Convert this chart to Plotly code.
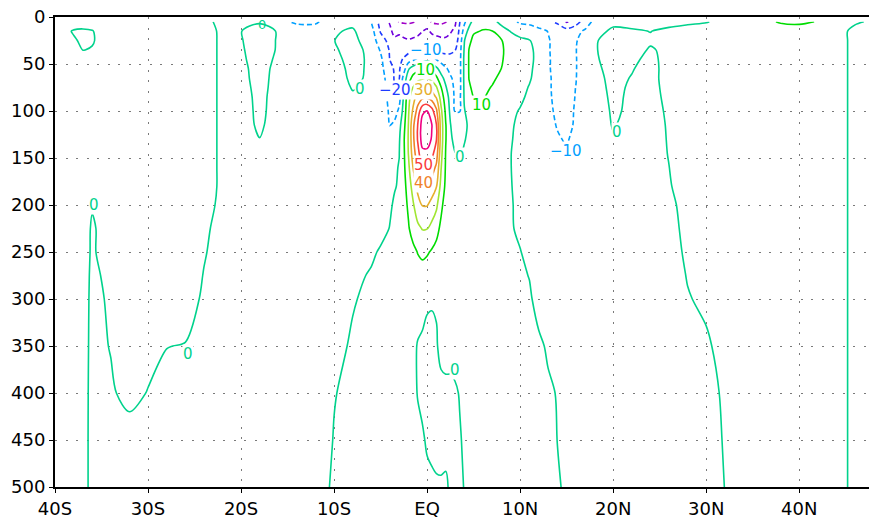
import numpy as np
import plotly.graph_objects as go

# Grid: latitude (deg, negative = south) and depth (m)
lat_deg = [-40, -38, -37, -36, -34, -32, -30, -28, -26, -24, -22, -20, -18, -16, -14, -12, -10,
           -8, -6, -5, -4, -3.5, -3, -2.5, -2, -1.5, -1, -0.5, 0, 0.5, 1, 1.5, 2, 2.5, 3,
           3.5, 4, 4.5, 5, 6, 7, 8, 9, 10, 11, 12, 13, 14, 15, 16, 17, 18, 20, 22, 24,
           26, 28, 30, 32, 34, 36, 38, 40, 42, 44, 46, 47.5]
depth_m = [5, 15, 25, 35, 45, 55, 65, 75, 85, 100, 115, 130, 145, 160, 180, 200,
           225, 250, 275, 300, 350, 400, 450, 500]

# Zonal velocity (cm/s), one depth profile per latitude in lat_deg order
u_cm_s = [
    [2, 2, 2, 2, 2, 2, 2, 2, 2, 2, 2, 2, 2, 2, 2, 2, 2, 2, 2, 2, 2, 2, 2, 2],                       # -40
    [2, -0.3, 0.4, 2, 2, 2, 2, 2, 2, 2, 2, 2, 2, 2, 2, 2, 2, 2, 2, 2, 2, 2, 2, 2],                  # -38
    [2, -0.6, -0.6, -0.1, 2, 2, 2, 2, 2, 2, 2, 2, 2, 2, 2, 2, 2, 2, 2, 2, 2, 2, 2, 2],              # -37
    [2, -0.2, -0.4, 0.3, 2, 2, 2, 2, 2, 2, 2, 2, 2, 1.5, 1, 0.3, -0.5, -0.6, -0.9, -1.1, -1.3, -1.5, -1.6, -1.6],  # -36
    [3, 2.7, 2.7, 3, 3, 3, 3, 3, 3, 3, 3, 3, 3, 3, 3, 3, 2, 2.4, 1.1, 0.6, 0.2, -0.6, -1.5, -2],    # -34
    [3, 3, 3, 3, 3, 3, 3, 3, 3, 3, 3, 3, 3, 3, 3, 3, 3, 3, 3, 3, 2.5, 1.4, -2.1, -2.5],              # -32
    [3, 3, 3, 3, 3, 3, 3, 3, 3, 3, 3, 3, 3, 3, 3, 3, 3, 3, 3, 3, 1.5, -0.2, -2, -2.5],               # -30
    [3, 3, 3, 3, 3, 3, 3, 3, 3, 3, 3, 3, 3, 3, 3, 3, 3, 3, 3, 1.5, 0.1, -1.5, -2, -2.5],             # -28
    [3, 3, 3, 3, 3, 3, 3, 3, 3, 3, 3, 3, 3, 3, 3, 3, 3, 3, 3, 2.4, -0.2, -1.8, -2.2, -2.5],          # -26
    [1, 1.3, 1.4, 1.4, 1.4, 1.4, 1.4, 1.4, 1.4, 1.4, 1.4, 1.4, 1.4, 1.4, 1.4, 1.2, 0.8, 0.4, -0.2, -0.8, -1.5, -2, -2.5, -2.5],  # -24
    [-1, -0.6, -0.6, -0.6, -0.6, -0.6, -0.6, -0.6, -0.6, -0.6, -0.6, -0.6, -0.6, -0.6, -0.6, -0.8, -1.5, -2, -2.5, -2.5, -2.5, -2.5, -2.5, -2.5],  # -22
    [-0.5, -0.1, -0.3, -0.6, -1, -1.3, -1.6, -2.2, -2.2, -2.2, -2, -2.2, -2.5, -2.5, -2.5, -2.5, -2.5, -2.5, -2.5, -2.5, -2.5, -2.5, -2.5, -2.5],  # -20
    [-0.5, 2, 2.5, 2.5, 2.5, 2, 2, 2, 1.5, 1.2, 0.8, -0.1, -1, -2, -2.5, -2.5, -2.5, -2.5, -2.5, -2.5, -2.5, -2.5, -2.5, -2.5],  # -18
    [-8.5, -0.35, -0.44, -0.5, -1.1, -1.6, -2, -2.4, -2.3, -2.2, -2.4, -2.5, -3, -3, -3, -3, -3, -3, -3, -3, -3, -3, -3, -3],  # -16
    [-11, -7, -5, -4, -4, -4, -4, -4, -4, -4, -4, -4, -4, -4, -4, -4, -4, -4, -4, -4, -4, -4, -4, -4],  # -14
    [-11, -7, -5, -4, -4, -4, -4, -4, -4, -4, -4, -4, -4, -4, -4, -4, -4, -4, -4, -4, -4, -4, -4, -4],  # -12
    [-6, -0.8, -0.1, -0.8, -2, -3, -3.5, -4, -4, -4, -4, -4, -4, -4, -4, -4, -4, -4, -4, -4, -4, -0.3, 0.32, 1.33],  # -10
    [-2, 1, 2, 2.5, 2.5, 2, 1.5, 0.5, -1, -2, -3, -3, -3, -3, -3, -3, -3, -3, -2.1, -1, 1.7, 1.7, 1.7, 1.7],  # -8
    [-10.1, -6, -4, -2, -1.5, -1.3, -1.2, -1.5, -2, -2.5, -3, -3, -3, -3, -3, -3, -3, -1.5, 0.9, 3, 3, 3, 3, 3],  # -6
    [-24, -21, -16, -11, -8, -7, -6.5, -6, -6, -5.5, -5, -4.5, -4, -3.5, -3, -2.8, -2.7, 1, 2, 3, 3, 3, 3, 3],  # -5
    [-31, -28, -23, -21, -20.2, -17, -14, -13, -12, -11, -10.3, -6, -4, -3, -2, -1, 0.3, 2, 3, 3, 3, 3, 3, 3],  # -4
    [-38, -33, -28, -24, -22, -21, -21, -20.5, -18, -14, -8, -3, -1.5, -1, -0.5, 1, 2, 3, 3, 3, 3, 3, 3, 3],  # -3.5
    [-40.5, -32, -27, -24, -22, -21, -20.3, -18, -14, -8, -3, -1, -0.2, 0.4, 0.8, 2, 3, 3, 3, 3, 3, 3, 3, 3],  # -3
    [-41, -35, -28, -24, -19, -14, -6, -3, 1.5, 4, 7, 9, 8.5, 8, 6.5, 5.5, 4, 3, 3, 3, 2.5, 2, 2, 2],  # -2.5
    [-41, -36, -29, -23, -15, -1, 6, 12, 17, 19, 20.5, 21, 20.5, 18, 15, 12, 9, 6, 4, 3, 2.5, 2, 2, 2],  # -2
    [-40.5, -35, -28, -21, -12, 5, 13, 20.5, 26, 32, 38, 38, 35, 30.5, 24, 19, 15, 7, 4, 3, 1, 1, 1.5, 2],  # -1.5
    [-38, -33, -27, -20.5, -8, 7, 17, 26, 34, 44, 50.5, 51, 47, 41, 33, 26, 18, 10.5, 5, 2, -0.3, -0.2, 1, 2],  # -1
    [-36, -30.3, -25, -19, -4, 9, 19, 28, 37, 58, 65, 65, 57, 50.5, 40.5, 30.5, 20.5, 12, 6, 1, -0.5, -1, 0.5, 1.5],  # -0.5
    [-36, -28, -24, -18, -2, 10.1, 20.1, 29, 38, 60.5, 66, 66, 57, 48, 39, 30.5, 20.3, 11, 5, 0.5, -1, -1.5, -0.5, 1],  # 0
    [-41, -32, -25, -19, -5, 8, 17, 26, 35, 54, 60.5, 59, 53, 45, 35, 27, 17, 9, 4, 0.5, -1.5, -2, -1, 0.8],  # 0.5
    [-42, -33, -27, -21, -10.5, 2, 12, 21, 29, 42, 50.5, 50.5, 45, 38, 30.5, 22, 13, 7, 3, 0.5, -0.5, -2, -1.5, 0.6],  # 1
    [-42, -34, -28, -23, -14, -4, 3, 10.5, 16, 22, 25, 25, 23, 20.5, 17, 12, 8, 5, 3, 1.5, 1.5, -1.5, -1.5, 0.5],  # 1.5
    [-40.5, -34, -28, -23, -16, -9, -3, 1, 4, 8, 10.5, 10.5, 9.5, 9, 8, 6, 4, 3, 2, 2, 1.5, -1, -1, 0.5],  # 2
    [-36, -31, -27, -22, -17, -12, -9, -6, -3, -2, 0.5, 2, 3, 4, 4, 3, 3, 3, 2, 2, 1.5, -1, -1, -0.5],  # 2.5
    [-32, -28, -25, -20.5, -16, -13, -12, -12, -12, -10.5, -6, -3, 0.3, 1, 3, 3, 3, 3, 2, 2, 1.5, -0.5, -1, -0.8],  # 3
    [-20.5, -18, -16, -14, -13, -13, -13, -13, -12, -10.5, -6, -3, -1, 1, 3, 3, 3, 3, 2, 2, 1.5, 0.2, -0.3, -0.5],  # 3.5
    [-12, -6, -0.5, 1, 2, 2, 2, 1.5, 1, -0.5, -1.5, -0.5, 1, 2, 3, 3, 3, 3, 2, 2, 1.5, 1, 0.5, 0.1],  # 4
    [-4, 3, 8, 10.2, 10.5, 10.5, 10.2, 9, 6, 3, 1, 1.5, 2, 2.5, 3, 3, 3, 3, 2, 2, 1.5, 1.5, 1, 0.8],  # 4.5
    [3, 9, 12, 13, 13, 12.5, 12, 11.5, 10.5, 7, 4, 3, 3, 3, 3, 3, 3, 3, 2, 2, 2, 1.5, 1.5, 1.5],  # 5
    [7, 10.5, 13, 14, 14, 13.5, 13, 12, 11, 8, 5, 4, 3.5, 3, 3, 3, 3, 3, 2, 2, 2, 2, 2, 2],  # 6
    [3, 10.2, 13, 13.5, 13.5, 13, 11.5, 9.5, 7, 5, 4, 3.5, 3, 3, 3, 3, 3, 3, 2, 2, 2, 2, 2, 2],  # 7
    [-3, 4, 10.5, 11.5, 11, 9.9, 8, 6, 4, 3, 2, 2, 2, 2, 2, 2, 2, 2, 2, 2, 2, 2, 2, 2],  # 8
    [-7, -0.5, 4, 5, 5, 5, 4.5, 4, 3, 1.5, 0.8, 0.5, 0.1, 0.1, 0.3, 0.5, 0.5, 1, 1.5, 2, 2, 2, 2, 2],  # 9
    [-11.5, -4, 2, 3, 3, 2.5, 2, 1.5, 1.5, -0.5, -1.5, -2, -2, -2, -2, -1.5, -1, 0.2, 1, 1.5, 2, 2, 2, 2],  # 10
    [-12, -6, 0.3, 1, 1.2, 1, 0.5, -0.3, -1.5, -3, -3.5, -4, -4, -4, -4, -4, -3, -1.5, -0.2, 0.8, 1.5, 2, 2, 2],  # 11
    [-14, -8, -2, -1.5, -1.5, -2, -2, -3, -4, -5, -6, -6, -6, -5.5, -5, -5, -4, -3.5, -3, -2, 1, 1.5, 2, 2],  # 12
    [-18, -10.2, -9.5, -9.5, -9.5, -9.5, -9.5, -9.5, -9.5, -9, -8.5, -8, -7, -6.5, -6, -5.5, -5, -4.5, -4, -3, -0.7, 0.8, 1.5, 2],  # 13
    [-22, -13, -12, -12, -11.5, -11.5, -11, -11, -10.8, -10.8, -10.3, -9.5, -9, -8, -7, -6, -5, -4.5, -4, -3.5, -3, -0.26, -0.05, 0.5],  # 14
    [-31, -16, -14, -13, -12.5, -12.5, -12, -12, -11.5, -11.5, -11, -10.5, -9.5, -8.5, -7.5, -6.5, -5.5, -5, -4.5, -4, -3.5, -2.5, -1.5, -0.75],  # 15
    [-25, -12, -10.5, -10.2, -10.3, -10.3, -10.2, -9.9, -9.8, -9.5, -9.5, -8.5, -8, -7.5, -7, -6.5, -6, -5.5, -5, -4.5, -4, -3, -2, -1.5],  # 16
    [-14, -9, -7, -6, -6, -6, -6, -6, -6, -6, -6, -6, -6, -6, -6, -6, -5.5, -5, -5, -4.5, -4, -3, -2.5, -2],  # 17
    [-8, -3, -0.5, -0.4, -0.6, -1, -1.5, -1.8, -2, -2.5, -3, -3.5, -4, -4, -4, -4, -4, -4, -4, -4, -3.5, -3, -2.5, -2],  # 18
    [-2, 1.5, 2, 2, 1.8, 1.5, 1.3, 1.1, 0.86, 0.6, 0.33, -0.5, -1.5, -2, -2, -2, -2, -2, -2, -2, -2, -2, -2, -2],  # 20
    [-1.5, 0.5, 1.5, 1.6, 0.9, 0.3, -0.23, -0.6, -0.7, -0.73, -1.5, -2, -2, -2, -2, -2, -2, -2, -2, -2, -2, -2, -2, -2],  # 22
    [-1.5, -0.1, 0.6, -0.4, -1.1, -1.7, -2, -2, -2, -2, -2, -2, -2, -2, -2, -2, -2, -2, -2, -2, -2, -2, -2, -2],  # 24
    [-1.5, 1, 1.5, 0.93, 1.5, 2, 2.44, 2, 1.5, 0.86, 0.5, 0.35, 0.2, -0.05, -0.5, -1, -1.5, -2, -2, -2, -2.5, -2.5, -2.5, -2.5],  # 26
    [-1, 2, 2.5, 2.5, 2.5, 2.5, 2.5, 2.5, 2.5, 2.5, 2.5, 2.5, 2.5, 2.5, 2.8, 1.5, 1.23, 0.86, 0.22, -0.27, -1.5, -2, -2.2, -2.5],  # 28
    [-0.3, 2.5, 3, 3, 3, 3, 3, 3, 3, 3, 3, 3, 3, 3, 3, 2.5, 2, 1.5, 1.2, 0.8, -0.6, -1.4, -1.7, -2],  # 30
    [1.5, 3, 3, 3, 3, 3, 3, 3, 3, 3, 3, 3, 3, 3, 3, 3, 3, 3, 3, 2.5, 1.4, 0.6, 0.3, 0.05],  # 32
    [3, 3, 3, 3, 3, 3, 3, 3, 3, 3, 3, 3, 3, 3, 3, 3, 3, 3, 3, 3, 3, 3, 3, 3],  # 34
    [7, 4, 3, 3, 3, 3, 3, 3, 3, 3, 3, 3, 3, 3, 3, 3, 3, 3, 3, 3, 3, 3, 3, 3],  # 36
    [11, 5, 3, 3, 3, 3, 3, 3, 3, 3, 3, 3, 3, 3, 3, 3, 3, 3, 3, 3, 3, 3, 3, 3],  # 38
    [12, 5, 3, 3, 3, 3, 3, 3, 3, 3, 3, 3, 3, 3, 3, 3, 3, 3, 3, 3, 3, 3, 3, 3],  # 40
    [9.5, 4, 3, 3, 3, 3, 3, 3, 3, 3, 3, 3, 3, 3, 3, 3, 3, 3, 3, 3, 3, 3, 3, 3],  # 42
    [3, 1.5, 1.5, 1.5, 1.5, 1.5, 1.5, 1.5, 1.5, 1.5, 1.5, 1.5, 1.5, 1.5, 1.5, 1.5, 1.5, 1.5, 1.5, 1.5, 1.5, 1.5, 1.5, 1.5],  # 44
    [0.5, -1, -1, -1, -1, -1, -1, -1, -1, -1, -1, -1, -1, -1, -1, -1, -1, -1, -1, -1, -1, -1, -1, -1],  # 46
    [-0.3, -1.5, -1.5, -1.5, -1.5, -1.5, -1.5, -1.5, -1.5, -1.5, -1.5, -1.5, -1.5, -1.5, -1.5, -1.5, -1.5, -1.5, -1.5, -1.5, -1.5, -1.5, -1.5, -1.5],  # 47.5
]

# Contour levels and their line colours (rainbow sequence)
neg_levels = [-40, -30, -20, -10]
pos_levels = [0, 10, 20, 30, 40, 50, 60]
level_colors = {
    -40: "rgb(160,0,200)", -30: "rgb(110,0,220)", -20: "rgb(30,60,255)",
    -10: "rgb(0,160,255)", 0: "rgb(0,210,140)", 10: "rgb(0,220,0)",
    20: "rgb(160,230,50)", 30: "rgb(230,175,45)", 40: "rgb(240,130,40)",
    50: "rgb(250,60,60)", 60: "rgb(240,0,130)",
}

# In-line contour labels: text, latitude, depth, level
label_text = ["0", "0", "0", "\u221210", "10", "\u221220", "30", "50", "40", "0", "10", "\u221210", "0", "0"]
label_lat = [-35.8, -25.7, -7.2, -0.1, -0.2, -3.5, -0.4, -0.4, -0.4, 3.5, 5.8, 14.9, 20.4, 3.0]
label_depth = [200, 358, 77, 35.5, 56.5, 78, 78, 157, 177, 149, 94, 143, 122, 376]
label_level = [0, 0, 0, -10, 10, -20, 30, 50, 40, 0, 10, -10, 0, 0]

# Label sitting on the surface edge (drawn without a backing box)
edge_label_text = ["0"]
edge_label_lat = [-17.7]
edge_label_depth = [8]

x_ticks = [-40, -30, -20, -10, 0, 10, 20, 30, 40]
x_tick_text = ["40S", "30S", "20S", "10S", "EQ", "10N", "20N", "30N", "40N"]
y_ticks = [0, 50, 100, 150, 200, 250, 300, 350, 400, 450, 500]

z = np.array(u_cm_s, dtype=float).T


def line_scale(levels):
    n = len(levels)
    return [[i / (n - 1), level_colors[v]] for i, v in enumerate(levels)]


fig = go.Figure()
fig.add_trace(go.Contour(
    x=lat_deg, y=depth_m, z=z, autocontour=False,
    contours=dict(start=neg_levels[0], end=neg_levels[-1], size=10, coloring="lines"),
    colorscale=line_scale(neg_levels), showscale=False,
    line=dict(width=1.6, dash="5px,3px", smoothing=0.9), hoverinfo="skip",
))
fig.add_trace(go.Contour(
    x=lat_deg, y=depth_m, z=z, autocontour=False,
    contours=dict(start=pos_levels[0], end=pos_levels[-1], size=10, coloring="lines"),
    colorscale=line_scale(pos_levels), showscale=False,
    line=dict(width=1.6, smoothing=0.9), hoverinfo="skip",
))

for txt, la, de, lv in zip(label_text, label_lat, label_depth, label_level):
    fig.add_annotation(
        x=la, y=de, xref="x", yref="y", text=txt, showarrow=False,
        font=dict(family="DejaVu Sans", size=15, color=level_colors[lv]),
        bgcolor="white", borderpad=0,
    )
for txt, la, de in zip(edge_label_text, edge_label_lat, edge_label_depth):
    fig.add_annotation(
        x=la, y=de, xref="x", yref="y", text=txt, showarrow=False,
        font=dict(family="DejaVu Sans", size=13, color=level_colors[0]),
    )

grid = dict(showgrid=True, gridcolor="#7a7a7a", gridwidth=1.3, griddash="2px,8.5px")
fig.update_layout(
    width=869, height=519,
    margin=dict(l=55, r=0, t=17, b=26),
    paper_bgcolor="white", plot_bgcolor="white",
    showlegend=False,
    font=dict(family="DejaVu Sans", size=18, color="black"),
    xaxis=dict(range=[-40, 47.5], tickvals=x_ticks, ticktext=x_tick_text,
               showline=True, linecolor="black", linewidth=2, mirror=True,
               ticks="outside", ticklen=4, tickcolor="black", zeroline=False, **grid),
    yaxis=dict(range=[500, 0], tickvals=y_ticks,
               showline=True, linecolor="black", linewidth=2, mirror=False,
               ticks="outside", ticklen=4, tickcolor="black", zeroline=False, **grid),
)

fig.write_html("out.html")
